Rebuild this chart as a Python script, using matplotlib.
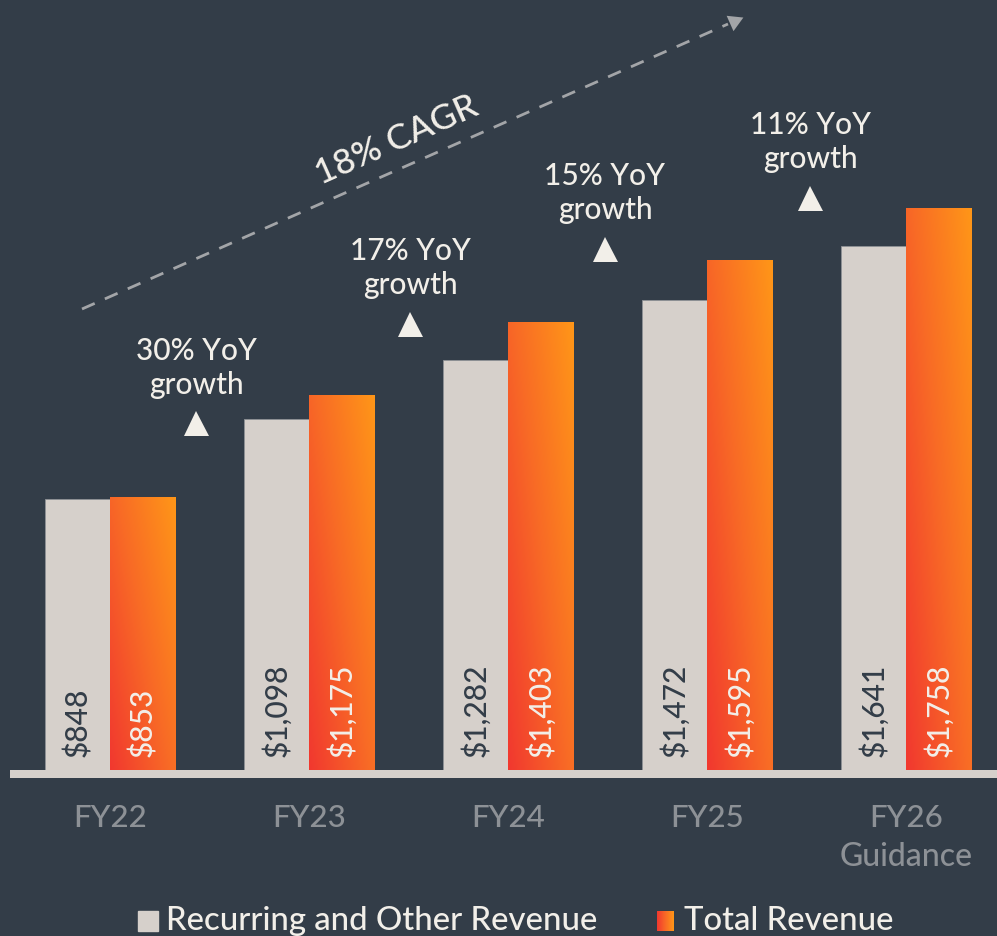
import numpy as np
import matplotlib
matplotlib.use("Agg")
import matplotlib.pyplot as plt
from matplotlib.colors import LinearSegmentedColormap
from matplotlib.patches import Rectangle

# data
years = ["FY22", "FY23", "FY24", "FY25", "FY26"]
year_sub = ["", "", "", "", "Guidance"]
recurring = [848, 1098, 1282, 1472, 1641]
total = [853, 1175, 1403, 1595, 1758]
recurring_lbl = ["$848", "$1,098", "$1,282", "$1,472", "$1,641"]
total_lbl = ["$853", "$1,175", "$1,403", "$1,595", "$1,758"]
growth = ["30% YoY\ngrowth", "17% YoY\ngrowth", "15% YoY\ngrowth", "11% YoY\ngrowth"]
cagr = "18% CAGR"

# layout (pixel positions of annotations in the 997x937 picture)
growth_xy = [(196, 368), (410, 268), (605, 193), (810, 142)]
tri_y = [424, 325, 250, 199]

BG = "#333d48"
GRAY = "#d6d0cb"
TXT = "#f2efe9"
TICK = "#8d9196"
FONT = "Lato"
WT = 500

W, H = 997, 937
step = 199.0          # px between groups
x0 = 110.0            # px of first group centre
base = 771.0          # px of baseline
scale = 0.3195        # px per unit


def X(px):
    return (px - x0) / step


def Y(py):
    return (base - py) / scale


fig = plt.figure(figsize=(W / 100, H / 100), dpi=100)
fig.patch.set_facecolor(BG)
ax = fig.add_axes([0, 0, 1, 1])
ax.set_facecolor(BG)
ax.axis("off")

x = np.arange(len(years))
w = 65.5 / step

ax.bar(x - w / 2, recurring, w, color=GRAY, edgecolor="#8e9196", linewidth=0.6, zorder=2)
obars = ax.bar(x + w / 2, total, w, color="none", linewidth=0, zorder=2)

cmap = LinearSegmentedColormap.from_list("og", ["#f1382f", "#f86a26", "#ff9618"])
gx, gy = np.meshgrid(np.linspace(0, 1, 60), np.linspace(0, 1, 200))
grad = 0.55 * gx + 0.45 * gy
for b in obars:
    im = ax.imshow(grad, cmap=cmap, origin="lower", aspect="auto", zorder=3,
                   extent=[b.get_x(), b.get_x() + b.get_width(), 0, b.get_height()],
                   interpolation="bilinear")
    im.set_clip_path(b)

# baseline strip
ax.add_patch(Rectangle((X(10), Y(779)), X(W) - X(10), Y(771) - Y(779),
                       color=GRAY, zorder=4, linewidth=0))

for i in range(len(years)):
    ax.text(x[i] - w / 2, Y(757), recurring_lbl[i], rotation=90, ha="center", va="bottom",
            fontsize=21.5, color=BG, family=FONT, weight=WT, zorder=5)
    ax.text(x[i] + w / 2, Y(757), total_lbl[i], rotation=90, ha="center", va="bottom",
            fontsize=21.5, color=TXT, family=FONT, weight=WT, zorder=5)
    ax.text(x[i], Y(818), years[i], ha="center", va="center", fontsize=22.5,
            color=TICK, family=FONT, weight=WT)
    if year_sub[i]:
        ax.text(x[i], Y(857), year_sub[i], ha="center", va="center", fontsize=23,
                color=TICK, family=FONT, weight=WT)

for (gxp, gyp), ty, s in zip(growth_xy, tri_y, growth):
    ax.text(X(gxp), Y(gyp), s, ha="center", va="center", fontsize=21.5, color=TXT,
            family=FONT, weight=WT, linespacing=1.3)
    ax.plot(X(gxp), Y(ty), marker="^", markersize=18, color=TXT, markeredgewidth=0)

# CAGR arrow
ax.plot([X(82), X(728)], [Y(310), Y(25)], color="#a3a5a8", linewidth=2,
        dashes=(5, 4), zorder=1)
ax.plot(X(734), Y(22), marker=(3, 0, -66), markersize=14, color="#a3a5a8",
        markeredgewidth=0)
ax.text(X(397), Y(140), cagr, rotation=24, ha="center", va="center", fontsize=25.5,
        color=TXT, family=FONT, weight=WT, rotation_mode="anchor")

# legend
ax.add_patch(Rectangle((X(138), Y(932)), X(158) - X(138), Y(912) - Y(932), color=GRAY))
ax.text(X(166), Y(921), "Recurring and Other Revenue", ha="left", va="center",
        fontsize=23.7, color=TXT, family=FONT, weight=WT)
lg = np.linspace(0, 1, 50).reshape(1, -1)
ax.imshow(np.vstack([lg, lg]), cmap=cmap, aspect="auto", origin="lower",
          extent=[X(657), X(674), Y(932), Y(912)])
ax.text(X(684), Y(921), "Total Revenue", ha="left", va="center",
        fontsize=23.7, color=TXT, family=FONT, weight=WT)
ax.set_xlim(X(0), X(W))
ax.set_ylim(Y(H), Y(0))

fig.savefig("out.png", dpi=100, facecolor=BG)
